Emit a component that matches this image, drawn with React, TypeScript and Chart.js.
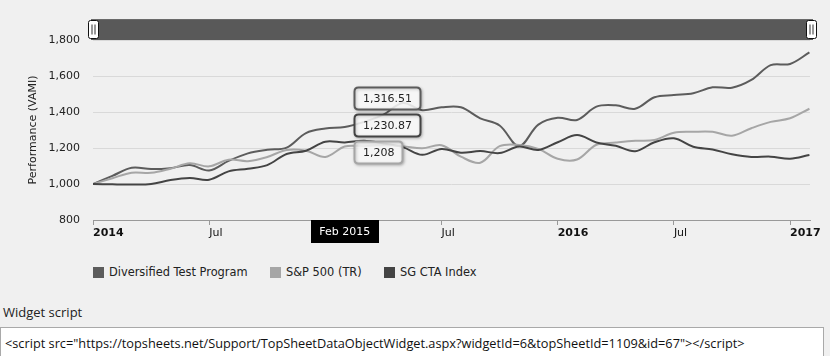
import React, { useEffect, useRef } from 'react';
import { Chart, registerables } from 'chart.js';

Chart.register(...registerables);

const FONT = '"DejaVu Sans", Verdana, sans-serif';
const WIDGET_FONT = '"Open Sans", "Noto Sans", sans-serif';

const monthLabels = [
  'Jan 2014', 'Feb 2014', 'Mar 2014', 'Apr 2014', 'May 2014', 'Jun 2014', 'Jul 2014', 'Aug 2014', 'Sep 2014', 'Oct 2014', 'Nov 2014', 'Dec 2014',
  'Jan 2015', 'Feb 2015', 'Mar 2015', 'Apr 2015', 'May 2015', 'Jun 2015', 'Jul 2015', 'Aug 2015', 'Sep 2015', 'Oct 2015', 'Nov 2015', 'Dec 2015',
  'Jan 2016', 'Feb 2016', 'Mar 2016', 'Apr 2016', 'May 2016', 'Jun 2016', 'Jul 2016', 'Aug 2016', 'Sep 2016', 'Oct 2016', 'Nov 2016', 'Dec 2016',
  'Jan 2017', 'Feb 2017',
];

const diversified = [
  1000, 1045, 1090, 1083, 1088, 1105, 1075, 1128, 1170, 1190, 1202, 1283,
  1308, 1316.51, 1345, 1385, 1450, 1410, 1426, 1426, 1365, 1325, 1210, 1330,
  1368, 1356, 1430, 1437, 1418, 1482, 1494, 1504, 1537, 1535, 1578, 1660,
  1667, 1731,
];

const sp500 = [
  1000, 1032, 1063, 1062, 1085, 1115, 1098, 1135, 1127, 1150, 1189, 1185,
  1150, 1208, 1210, 1215, 1210, 1198, 1215, 1152, 1118, 1210, 1217, 1195,
  1140, 1136, 1218, 1230, 1240, 1245, 1285, 1290, 1290, 1268, 1310, 1345,
  1365, 1418,
];

const sgCta = [
  1000, 998, 997, 1000, 1022, 1033, 1024, 1070, 1085, 1105, 1167, 1185,
  1235, 1230.87, 1240, 1225, 1205, 1162, 1195, 1174, 1183, 1172, 1208, 1189,
  1232, 1272, 1231, 1212, 1182, 1232, 1254, 1207, 1192, 1165, 1150, 1152,
  1140, 1161,
];

const seriesNames = ['Diversified Test Program', 'S&P 500 (TR)', 'SG CTA Index'];
const seriesColors = ['#5c5c5c', '#a6a6a6', '#444444'];

const tickMonths = [0, 6, 12, 18, 24, 30, 36];
const tickLabels = ['2014', 'Jul', '2015', 'Jul', '2016', 'Jul', '2017'];
const yearTicks = ['2014', '2015', '2016', '2017'];

const yTicks = [800, 1000, 1200, 1400, 1600, 1800];

const hoverIndex = 13;

function roundRectPath(ctx: CanvasRenderingContext2D, x: number, y: number, w: number, h: number, r: number) {
  ctx.beginPath();
  ctx.moveTo(x + r, y);
  ctx.lineTo(x + w - r, y);
  ctx.quadraticCurveTo(x + w, y, x + w, y + r);
  ctx.lineTo(x + w, y + h - r);
  ctx.quadraticCurveTo(x + w, y + h, x + w - r, y + h);
  ctx.lineTo(x + r, y + h);
  ctx.quadraticCurveTo(x, y + h, x, y + h - r);
  ctx.lineTo(x, y + r);
  ctx.quadraticCurveTo(x, y, x + r, y);
  ctx.closePath();
}

const scrollbarPlugin = {
  id: 'scrollbarDeco',
  afterDraw(chart: any) {
    const { ctx, chartArea } = chart;
    const top = chartArea.top - 21;
    ctx.save();
    ctx.fillStyle = '#595959';
    ctx.fillRect(chartArea.left - 2, top, chartArea.right - chartArea.left + 5, 21);
    ctx.fillStyle = '#6a6a6a';
    ctx.fillRect(chartArea.left - 2, top, chartArea.right - chartArea.left + 5, 1);
    const drawHandle = (cx: number) => {
      const w = 10, h = 18;
      const x = Math.round(cx - w / 2) + 0.5;
      const y = top + 1.5;
      roundRectPath(ctx, x, y, w, h, 2);
      ctx.fillStyle = '#ffffff';
      ctx.fill();
      ctx.strokeStyle = '#111';
      ctx.lineWidth = 1;
      ctx.stroke();
      ctx.beginPath();
      ctx.moveTo(x + 3.5, y + 4);
      ctx.lineTo(x + 3.5, y + h - 4);
      ctx.moveTo(x + 6.5, y + 4);
      ctx.lineTo(x + 6.5, y + h - 4);
      ctx.strokeStyle = '#333';
      ctx.stroke();
    };
    drawHandle(chartArea.left);
    drawHandle(chartArea.right + 1);
    ctx.restore();
  },
};

const hoverPlugin = {
  id: 'hoverDeco',
  afterDraw(chart: any) {
    const { ctx } = chart;
    const xs = chart.scales.x;
    const ys = chart.scales.y;
    const px = xs.getPixelForValue(hoverIndex);
    ctx.save();
    ctx.font = `11px ${FONT}`;

    const dateText = monthLabels[hoverIndex];
    const dw = ctx.measureText(dateText).width + 17;
    const dh = 23;
    ctx.fillStyle = '#000';
    ctx.fillRect(Math.round(px - dw / 2), ys.bottom, Math.round(dw), dh);
    ctx.fillStyle = '#fff';
    ctx.textAlign = 'center';
    ctx.textBaseline = 'middle';
    ctx.fillText(dateText, px, ys.bottom + dh / 2 + 0.5);

    const values = [diversified[hoverIndex], sp500[hoverIndex], sgCta[hoverIndex]];
    const items = values.map((v, i) => ({ v, i, py: ys.getPixelForValue(v) }));
    items.sort((a, b) => a.py - b.py);
    const mean = items.reduce((s, it) => s + it.py, 0) / items.length;
    const gap = 27;
    const h = 22;
    items.forEach((it, k) => {
      const cy = mean - 14 + (k - 1) * gap;
      const text = it.v.toLocaleString('en-US', { maximumFractionDigits: 2 });
      const tw = ctx.measureText(text).width;
      const w = Math.round(tw + 17);
      const x = Math.round(px + 9) + 0.5;
      const y = Math.round(cy - h / 2) + 0.5;
      ctx.save();
      ctx.shadowColor = 'rgba(0,0,0,0.25)';
      ctx.shadowBlur = 3;
      ctx.shadowOffsetX = 1;
      ctx.shadowOffsetY = 1;
      roundRectPath(ctx, x, y, w, h, 4);
      ctx.fillStyle = 'rgba(255,255,255,0.85)';
      ctx.fill();
      ctx.lineWidth = 2;
      ctx.strokeStyle = seriesColors[it.i];
      ctx.stroke();
      ctx.restore();
      ctx.fillStyle = '#222';
      ctx.textAlign = 'left';
      ctx.textBaseline = 'middle';
      ctx.fillText(text, x + 8.5, y + h / 2 + 0.5);
    });
    ctx.restore();
  },
};

export default function App() {
  const canvasRef = useRef<HTMLCanvasElement | null>(null);

  useEffect(() => {
    const canvas = canvasRef.current;
    if (!canvas) return;
    const allSeries = [diversified, sp500, sgCta];
    const chart = new Chart(canvas, {
      type: 'line',
      data: {
        datasets: allSeries.map((vals, si) => ({
          label: seriesNames[si],
          data: vals.map((y, i) => ({ x: i, y })),
          borderColor: seriesColors[si],
          backgroundColor: seriesColors[si],
          borderWidth: 2,
          pointRadius: 0,
          tension: 0.35,
          fill: false,
          order: 3 - si,
        })),
      },
      options: {
        animation: false,
        responsive: false,
        maintainAspectRatio: false,
        events: [],
        layout: { padding: { top: 40, right: 20, left: 0, bottom: 0 } },
        plugins: {
          legend: { display: false },
          tooltip: { enabled: false },
        },
        scales: {
          x: {
            type: 'linear',
            min: 0,
            max: 37.03,
            afterBuildTicks: (scale: any) => {
              scale.ticks = tickMonths.map((v) => ({ value: v }));
            },
            afterFit: (scale: any) => {
              scale.height = 30;
              scale.paddingRight = 0;
            },
            grid: {
              drawOnChartArea: false,
              drawTicks: true,
              tickLength: 5,
              color: '#999999',
            },
            border: { display: true, color: '#999999', width: 1 },
            ticks: {
              autoSkip: false,
              maxRotation: 0,
              minRotation: 0,
              align: 'start',
              padding: 2,
              color: '#111',
              font: (c: any) => ({
                family: FONT,
                size: 11,
                weight: c.tick && yearTicks.includes(tickLabels[tickMonths.indexOf(c.tick.value)]) ? 'bold' : 'normal',
              }),
              callback: (v: any) => {
                const k = tickMonths.indexOf(Number(v));
                return k >= 0 ? tickLabels[k] : '';
              },
            },
          },
          y: {
            min: 800,
            max: 1800,
            afterBuildTicks: (scale: any) => {
              scale.ticks = yTicks.map((v) => ({ value: v }));
            },
            afterFit: (scale: any) => {
              scale.width = 93;
            },
            grid: { color: '#d9d9d9', drawTicks: false, lineWidth: 1 },
            border: { display: false },
            ticks: {
              padding: 13,
              color: '#222',
              font: { family: FONT, size: 11 },
              callback: (v: any) => Number(v).toLocaleString('en-US'),
            },
            title: {
              display: true,
              text: 'Performance (VAMI)',
              color: '#222',
              font: { family: FONT, size: 11 },
              padding: { top: 27, bottom: 0 },
            },
          },
        },
      },
      plugins: [scrollbarPlugin, hoverPlugin],
    } as any);
    return () => chart.destroy();
  }, []);

  const legendX = [93, 270, 384];

  return (
    <div style={{ position: 'relative', width: 830, height: 356, background: '#f0f0f0', overflow: 'hidden' }}>
      <style>{`html,body{margin:0;padding:0;background:#f0f0f0;}`}</style>
      <canvas ref={canvasRef} width={830} height={250} style={{ position: 'absolute', left: 0, top: 0, display: 'block' }} />
      {seriesNames.map((name, i) => (
        <div key={name} style={{ position: 'absolute', left: legendX[i], top: 264, height: 16, display: 'flex', alignItems: 'center', whiteSpace: 'nowrap' }}>
          <span style={{ display: 'inline-block', width: 11, height: 11, background: seriesColors[i], marginRight: 5 }} />
          <span style={{ font: `11.4px ${FONT}`, color: '#222' }}>{name}</span>
        </div>
      ))}
      <div style={{ position: 'absolute', left: 3, top: 303, font: `13px ${WIDGET_FONT}`, color: '#222', whiteSpace: 'nowrap' }}>Widget script</div>
      <div style={{ position: 'absolute', left: 0, top: 327, width: 824, height: 40, background: '#fff', border: '1px solid #a9a9a9', boxSizing: 'border-box' }}>
        <div style={{ position: 'absolute', left: 4, top: 6, font: `12.75px ${WIDGET_FONT}`, color: '#111', whiteSpace: 'nowrap' }}>
          {'<script src="https://topsheets.net/Support/TopSheetDataObjectWidget.aspx?widgetId=6&topSheetId=1109&id=67"></script>'}
        </div>
      </div>
    </div>
  );
}
